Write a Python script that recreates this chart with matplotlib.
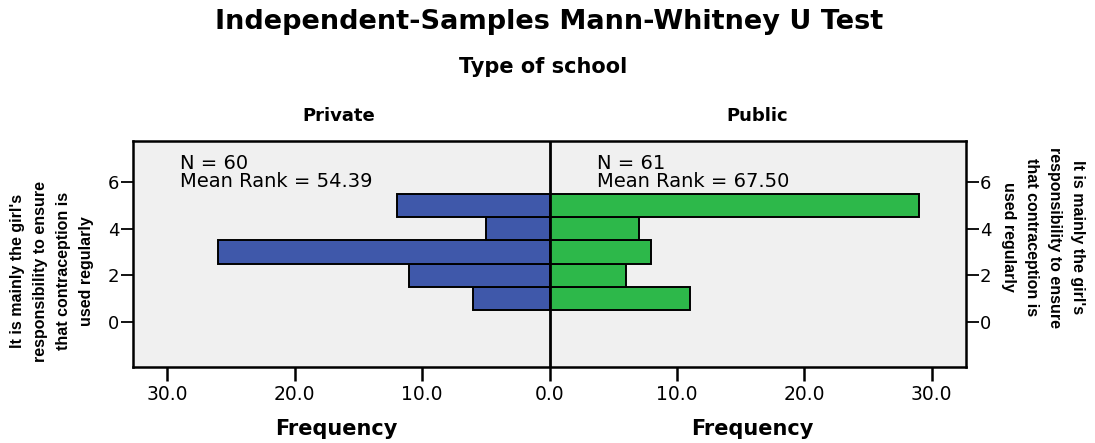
import matplotlib
matplotlib.use("Agg")
import matplotlib.pyplot as plt
import numpy as np

plt.rcParams['font.family'] = ['DejaVu Sans']

# Data
categories = [1, 2, 3, 4, 5]
private_freq = [6, 11, 26, 5, 12]
public_freq = [11, 6, 8, 7, 29]
groups = ["Private", "Public"]
group_n = [60, 61]
mean_rank = [54.39, 67.50]
xticks = [-30, -20, -10, 0, 10, 20, 30]
xtick_labels = ["30.0", "20.0", "10.0", "0.0", "10.0", "20.0", "30.0"]
yticks = [0, 2, 4, 6]
ylabel = "It is mainly the girl's\nresponsibility to ensure\nthat contraception is\nused regularly"

fig = plt.figure(figsize=(10.95, 4.43), dpi=100)
ax = fig.add_axes([133/1095, 1-367/443, (966-133)/1095, (367-141)/443])
ax.set_facecolor('#F0F0F0')

ax.barh(categories, [-v for v in private_freq], height=1.0, color='#3F58AA',
        edgecolor='black', linewidth=1.4, zorder=2)
ax.barh(categories, public_freq, height=1.0, color='#2DB84A',
        edgecolor='black', linewidth=1.4, zorder=2)
ax.axvline(0, color='black', lw=2, zorder=3)

ax.set_xlim(-32.7, 32.7)
ax.set_ylim(-1.93, 7.77)
ax.set_xticks(xticks)
ax.set_xticklabels(xtick_labels)
ax.set_yticks(yticks)
ax.tick_params(axis='y', which='both', left=True, right=True, labelleft=True,
               labelright=True, direction='out', length=9, width=1.3, labelsize=13, pad=1)
ax.tick_params(axis='x', direction='out', length=10, width=1.8, labelsize=13.5, pad=3)
for s in ax.spines.values():
    s.set_linewidth(1.8)

# group stats
ax.text(-29.0, 7.22, f"N = {group_n[0]}\nMean Rank = {mean_rank[0]:.2f}", fontsize=14,
        va='top', ha='left', linespacing=0.97)
ax.text(3.7, 7.22, f"N = {group_n[1]}\nMean Rank = {mean_rank[1]:.2f}", fontsize=14,
        va='top', ha='left', linespacing=0.97)

fig.text(549/1095, 1-22/443, "Independent-Samples Mann-Whitney U Test", fontsize=19.5,
         fontweight='bold', ha='center', va='center')
fig.text(543/1095, 1-67/443, "Type of school", fontsize=15, fontweight='bold',
         ha='center', va='center')
fig.text(339/1095, 1-116/443, groups[0], fontsize=13, fontweight='bold', ha='center', va='center')
fig.text(757/1095, 1-116/443, groups[1], fontsize=13, fontweight='bold', ha='center', va='center')
fig.text(336/1095, 1-429/443, "Frequency", fontsize=15, fontweight='bold', ha='center', va='center')
fig.text(752/1095, 1-429/443, "Frequency", fontsize=15, fontweight='bold', ha='center', va='center')

fig.text(52/1095, 1-271/443, ylabel, rotation=90, fontsize=11.5, fontweight='bold',
         family='Liberation Sans', ha='center', va='center', multialignment='center',
         linespacing=1.65)
fig.text(1043/1095, 1-237/443, ylabel, rotation=270, fontsize=11.5, fontweight='bold',
         family='Liberation Sans', ha='center', va='center', multialignment='center',
         linespacing=1.65)

fig.savefig("out.png", dpi=100, facecolor='white')
